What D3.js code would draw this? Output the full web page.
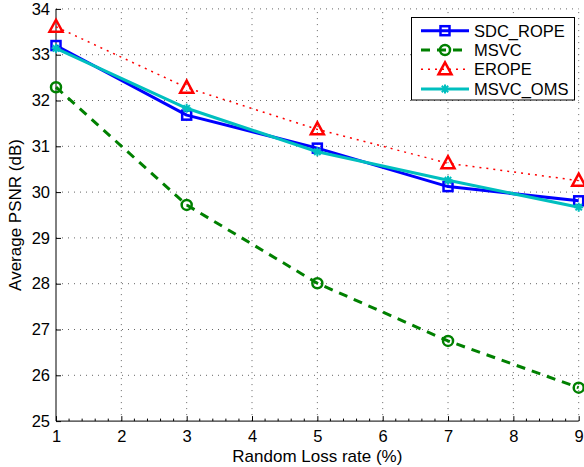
<!DOCTYPE html>
<html>
<head>
<meta charset="utf-8">
<script src="https://cdn.jsdelivr.net/npm/d3@7"></script>
<style>
  html, body { margin: 0; padding: 0; background: #fff; }
  svg { display: block; font-family: "Liberation Sans", Arial, sans-serif; }
</style>
</head>
<body>
<svg id="chart" width="584" height="467"></svg>
<script>
// Loss rates (%) on the x axis
const lossRates = [1, 3, 5, 7, 9];

// Average PSNR (dB) per method
const sdcRope = [33.20, 31.68, 30.96, 30.12, 29.81];
const msvc    = [32.29, 29.72, 28.01, 26.75, 25.73];
const erope   = [33.61, 32.28, 31.37, 30.63, 30.25];
const msvcOms = [33.14, 31.83, 30.88, 30.26, 29.67];

const seriesNames = ["SDC_ROPE", "MSVC", "EROPE", "MSVC_OMS"];

const xTicks = [1, 2, 3, 4, 5, 6, 7, 8, 9];
const yTicks = [25, 26, 27, 28, 29, 30, 31, 32, 33, 34];

const styles = [
  { color: "#0000ff", width: 3, dash: null, marker: "square" },
  { color: "#008000", width: 3, dash: "9,7", marker: "circle" },
  { color: "#ff0000", width: 1.5, dash: "2,5", marker: "triangle" },
  { color: "#00bfbf", width: 3, dash: null, marker: "asterisk" }
];

const series = [sdcRope, msvc, erope, msvcOms].map((vals, i) => ({
  name: seriesNames[i],
  style: styles[i],
  points: vals.map((v, j) => ({ x: lossRates[j], y: v }))
}));

const svg = d3.select("#chart");
const plotLeft = 56, plotRight = 578.7, plotTop = 8.9, plotBottom = 421.1;

const x = d3.scaleLinear().domain([1, 9]).range([plotLeft, plotRight]);
const y = d3.scaleLinear().domain([25, 34]).range([plotBottom, plotTop]);

// Dotted grid
const grid = svg.append("g").attr("stroke", "#666").attr("stroke-width", 1)
  .attr("stroke-dasharray", "1,5");
grid.selectAll(".gx").data(xTicks.slice(1)).join("line")
  .attr("x1", d => x(d)).attr("x2", d => x(d))
  .attr("y1", plotBottom).attr("y2", plotTop);
grid.selectAll(".gy").data(yTicks.slice(1)).join("line")
  .attr("x1", plotLeft).attr("x2", plotRight)
  .attr("y1", d => y(d)).attr("y2", d => y(d));

// Axes with inward ticks
const xAxis = d3.axisBottom(x).tickValues(xTicks).tickSize(-5).tickPadding(10)
  .tickFormat(d3.format("d"));
const gx = svg.append("g").attr("transform", `translate(0,${plotBottom})`).call(xAxis);
gx.select(".domain").attr("d", `M${plotLeft},0H${plotRight}`);

// Minor ticks along the x axis
const minor = d3.range(1, 9.0001, 0.2).filter(v => Math.abs(v - Math.round(v)) > 1e-6);
gx.selectAll(".minor").data(minor).join("line")
  .attr("class", "minor")
  .attr("x1", d => x(d)).attr("x2", d => x(d))
  .attr("y1", 0).attr("y2", -2.5).attr("stroke", "#000");

const yAxis = d3.axisLeft(y).tickValues(yTicks).tickSize(-5).tickPadding(6)
  .tickFormat(d3.format("d"));
const gy = svg.append("g").attr("transform", `translate(${plotLeft},0)`).call(yAxis);
gy.select(".domain").attr("d", `M0,${plotTop}V${plotBottom}`);

[gx, gy].forEach(g => {
  g.selectAll("text").attr("font-size", 16.5).attr("fill", "#000")
    .attr("font-family", "Liberation Sans, Arial, sans-serif");
  g.selectAll("line, path").attr("stroke", "#000");
});
gx.selectAll(".tick text").attr("dy", "0.68em");

// Axis titles
svg.append("text").attr("x", (plotLeft + plotRight) / 2).attr("y", 462)
  .attr("text-anchor", "middle").attr("font-size", 17)
  .text("Random Loss rate (%)");
svg.append("text")
  .attr("transform", `translate(21,${(plotTop + plotBottom) / 2}) rotate(-90)`)
  .attr("text-anchor", "middle").attr("font-size", 17)
  .text("Average PSNR (dB)");

// Marker drawing
function drawMarker(g, kind, color, cx, cy) {
  if (kind === "square") {
    g.append("rect").attr("x", cx - 4.5).attr("y", cy - 4.5)
      .attr("width", 9).attr("height", 9)
      .attr("fill", "none").attr("stroke", color).attr("stroke-width", 2.5);
  } else if (kind === "circle") {
    g.append("circle").attr("cx", cx).attr("cy", cy).attr("r", 5)
      .attr("fill", "none").attr("stroke", color).attr("stroke-width", 2.5);
  } else if (kind === "triangle") {
    g.append("path")
      .attr("d", `M${cx},${cy - 7}L${cx + 6.5},${cy + 5}L${cx - 6.5},${cy + 5}Z`)
      .attr("fill", "none").attr("stroke", color).attr("stroke-width", 2.5)
      .attr("stroke-linejoin", "miter");
  } else if (kind === "asterisk") {
    const r = 4.5, d = r * 0.7071;
    g.append("path")
      .attr("d", `M${cx - r},${cy}H${cx + r}M${cx},${cy - r}V${cy + r}` +
        `M${cx - d},${cy - d}L${cx + d},${cy + d}M${cx - d},${cy + d}L${cx + d},${cy - d}`)
      .attr("fill", "none").attr("stroke", color).attr("stroke-width", 2);
  }
}

const line = d3.line().x(d => x(d.x)).y(d => y(d.y));
const plot = svg.append("g");
series.forEach(s => {
  const g = plot.append("g");
  g.append("path").datum(s.points).attr("d", line)
    .attr("fill", "none").attr("stroke", s.style.color)
    .attr("stroke-width", s.style.width)
    .attr("stroke-dasharray", s.style.dash)
    .attr("stroke-linejoin", "round");
  s.points.forEach(p => drawMarker(g, s.style.marker, s.style.color, x(p.x), y(p.y)));
});

// Legend
const lg = svg.append("g");
lg.append("rect").attr("x", 411.5).attr("y", 17.5).attr("width", 163).attr("height", 82.5)
  .attr("fill", "#fff").attr("stroke", "#000").attr("stroke-width", 1);
const rowY = [30.7, 50, 69.3, 89];
series.forEach((s, i) => {
  const yy = rowY[i];
  lg.append("line").attr("x1", 421).attr("x2", 469).attr("y1", yy).attr("y2", yy)
    .attr("stroke", s.style.color).attr("stroke-width", s.style.width)
    .attr("stroke-dasharray", s.style.dash);
  drawMarker(lg, s.style.marker, s.style.color, 445, yy);
  lg.append("text").attr("x", 474).attr("y", yy).attr("dy", "0.36em")
    .attr("font-size", 16.5).text(s.name);
});
</script>
</body>
</html>
